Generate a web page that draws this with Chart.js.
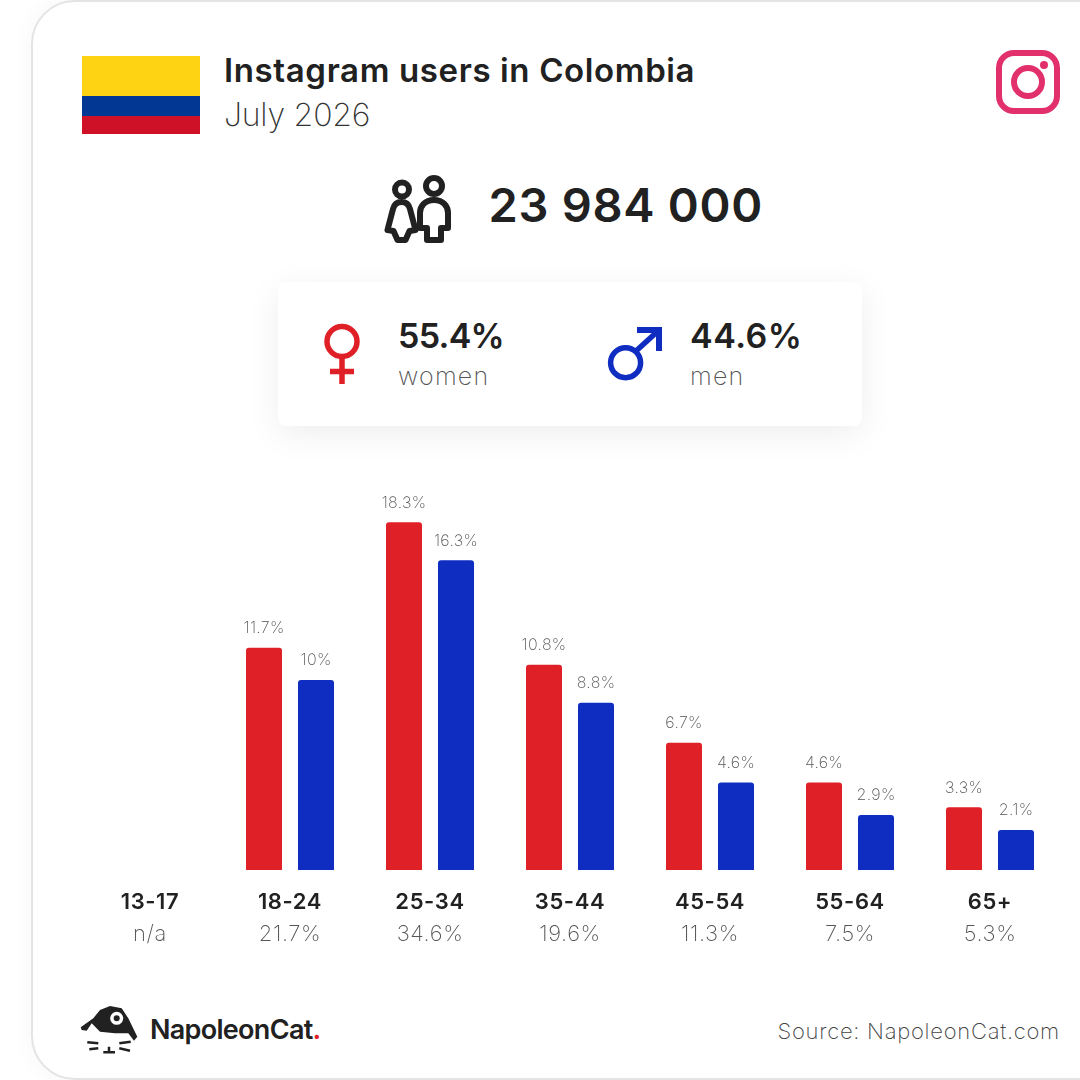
<!DOCTYPE html>
<html>
<head>
<meta charset="utf-8">
<title>Instagram users in Colombia</title>
<script src="https://cdn.jsdelivr.net/npm/chart.js@4/dist/chart.umd.min.js"></script>
<style>
  html, body { margin: 0; padding: 0; background: #fff; }
  body { width: 1080px; height: 1080px; position: relative; overflow: hidden; font-family: Inter, sans-serif; color: #212121; }
  .abs { position: absolute; white-space: nowrap; }
  #card { position: absolute; left: 31px; top: 0; width: 1100px; height: 1080px; box-sizing: border-box; border: 2px solid #e4e4e4; border-radius: 44px; background: #fff; box-shadow: 0 0 24px rgba(0,0,0,.04); }
  #panel { position: absolute; left: 278px; top: 282px; width: 584px; height: 144px; border-radius: 8px; background: #fff; box-shadow: 0 8px 34px rgba(0,0,0,.07); }
  .light { font-weight: 200; }
  #chart { position: absolute; left: 80px; top: 470px; }
</style>
</head>
<body>
<div id="card"></div>

<svg class="abs" style="left:82px;top:56px" width="118" height="78">
  <rect width="118" height="40" fill="#fed314"/>
  <rect y="40" width="118" height="20" fill="#023893"/>
  <rect y="60" width="118" height="18" fill="#ce1127"/>
</svg>
<div class="abs" style="left:224px;top:50px;font-size:33px;line-height:40px;font-weight:600;letter-spacing:.63px">Instagram users in Colombia</div>
<div class="abs light" style="left:224px;top:95px;font-size:32px;line-height:40px;color:#333;letter-spacing:-.2px">July 2026</div>

<svg class="abs" style="left:996px;top:50px" width="64" height="64" fill="none" stroke="#e1306c" stroke-width="6">
  <rect x="3" y="3" width="58" height="58" rx="15"/>
  <circle cx="32" cy="32" r="14"/>
  <circle cx="48" cy="15" r="4" fill="#e1306c" stroke="none"/>
</svg>

<svg class="abs" style="left:380px;top:170px" width="80" height="80" fill="none" stroke="#212121" stroke-width="6" stroke-linejoin="round">
  <circle cx="22" cy="19.500" r="7"/>
  <path d="M21.500 32c-5 0-7.500 3-8.500 7L7.500 60l6 1 4 9h8l4-9 6-1L30 39c-1-4-3.500-7-8.500-7z"/>
  <circle cx="54" cy="16" r="8"/>
  <path d="M54 30c-9 0-14 6-14 13v15h7v12h14V58h7V43c0-7-5-13-14-13z"/>
</svg>
<div class="abs" style="left:488.500px;top:175px;font-size:47px;line-height:60px;font-weight:600;letter-spacing:.7px">23 984 000</div>

<div id="panel"></div>
<svg class="abs" style="left:320px;top:320px" width="50" height="70" fill="none" stroke="#e02027">
  <circle cx="22" cy="21.500" r="15" stroke-width="5.500"/>
  <path d="M22 36.500V64M10 51.500h24" stroke-width="5.500"/>
</svg>
<div class="abs" style="left:398px;top:314px;font-size:34px;line-height:44px;font-weight:600;letter-spacing:-.7px">55.4%</div>
<div class="abs light" style="left:398px;top:360px;font-size:25px;line-height:32px;color:#555;letter-spacing:1.2px">women</div>

<svg class="abs" style="left:600px;top:320px" width="70" height="70" fill="none" stroke="#0f2dc1" stroke-width="5.500">
  <circle cx="25.600" cy="42.700" r="15"/>
  <path d="M36 31L58 11"/>
  <path d="M37 7h25v24h-6V13H37z" fill="#0f2dc1" stroke="none"/>
</svg>
<div class="abs" style="left:690px;top:314px;font-size:34px;line-height:44px;font-weight:600;letter-spacing:.5px">44.6%</div>
<div class="abs light" style="left:690px;top:360px;font-size:25px;line-height:32px;color:#555;letter-spacing:1.2px">men</div>

<canvas id="chart" width="980" height="478"></canvas>

<svg class="abs" style="left:78px;top:1004px" width="64" height="52" fill="#212121">
  <path d="M2.700 23.300L15.300 14.300 22 6 32 2 43.700 4.300 50.300 14.300 59.300 32.700 56 36.700 50.300 29.300 37 29.300 22 27.700 13.700 19.300 8.700 26.700 3.700 26z"/>
  <circle cx="38.700" cy="14.300" r="6.500" fill="#fff"/>
  <circle cx="38.700" cy="14.300" r="3"/>
  <path d="M9.300 38.300l11 1M11.300 45.300l9-1M41.300 39.300l11.400-1.600M41.300 44.300l10.700 2.400M25.300 48.300H37M31 42.700v5.600" stroke="#212121" stroke-width="2.500" fill="none"/>
</svg>
<div class="abs" style="left:150px;top:1012px;font-size:27px;line-height:36px;font-weight:600;letter-spacing:-.7px">NapoleonCat<span style="color:#e02027">.</span></div>
<div class="abs light" style="right:20px;top:1016px;font-size:22px;line-height:30px;color:#444;letter-spacing:.74px">Source: NapoleonCat.com</div>

<script>
const ageGroups = ['13-17', '18-24', '25-34', '35-44', '45-54', '55-64', '65+'];
const totals = ['n/a', '21.7%', '34.6%', '19.6%', '11.3%', '7.5%', '5.3%'];
const women = [null, 11.7, 18.3, 10.8, 6.7, 4.6, 3.3];
const men = [null, 10, 16.3, 8.8, 4.6, 2.9, 2.1];

// percentage label above each bar, plus a bit of tracking for the tick text
const barLabels = {
  id: 'barLabels',
  beforeDraw(chart) {
    chart.ctx.letterSpacing = '0.6px';
  },
  afterDatasetsDraw(chart) {
    const ctx = chart.ctx;
    ctx.save();
    ctx.letterSpacing = '0.3px';
    ctx.font = '200 16px Inter, sans-serif';
    ctx.fillStyle = '#555';
    ctx.textAlign = 'center';
    ctx.textBaseline = 'middle';
    chart.data.datasets.forEach((ds, i) => {
      chart.getDatasetMeta(i).data.forEach((bar, j) => {
        if (ds.data[j] == null) return;
        ctx.fillText(ds.data[j] + '%', bar.x, bar.y - 19.5);
      });
    });
    ctx.restore();
  },
};

new Chart(document.getElementById('chart'), {
  type: 'bar',
  data: {
    labels: ageGroups,
    datasets: [
      { label: 'women', data: women, backgroundColor: '#e02027' },
      { label: 'men', data: men, backgroundColor: '#0f2dc1' },
    ],
  },
  options: {
    responsive: false,
    animation: false,
    layout: { padding: { top: 20 } },
    categoryPercentage: 104 / 140,
    barPercentage: 36 / 52,
    elements: { bar: { borderRadius: { topLeft: 3, topRight: 3 }, borderSkipped: 'bottom' } },
    plugins: { legend: { display: false }, tooltip: { enabled: false } },
    scales: {
      y: { display: false, min: 0, max: 20 },
      x: {
        grid: { display: false, drawTicks: false },
        border: { display: false },
        afterFit: s => { s.height = 46; },
        ticks: { color: '#212121', padding: 19, font: { family: 'Inter, sans-serif', size: 22, weight: '600' }, maxRotation: 0, autoSkip: false },
      },
      x2: {
        type: 'category',
        labels: totals,
        position: 'bottom',
        grid: { display: false, drawTicks: false },
        border: { display: false },
        afterFit: s => { s.height = 32; },
        ticks: { color: '#555', padding: 5, font: { family: 'Inter, sans-serif', size: 22, weight: '200' }, maxRotation: 0, autoSkip: false },
      },
    },
  },
  plugins: [barLabels],
});
</script>
</body>
</html>
